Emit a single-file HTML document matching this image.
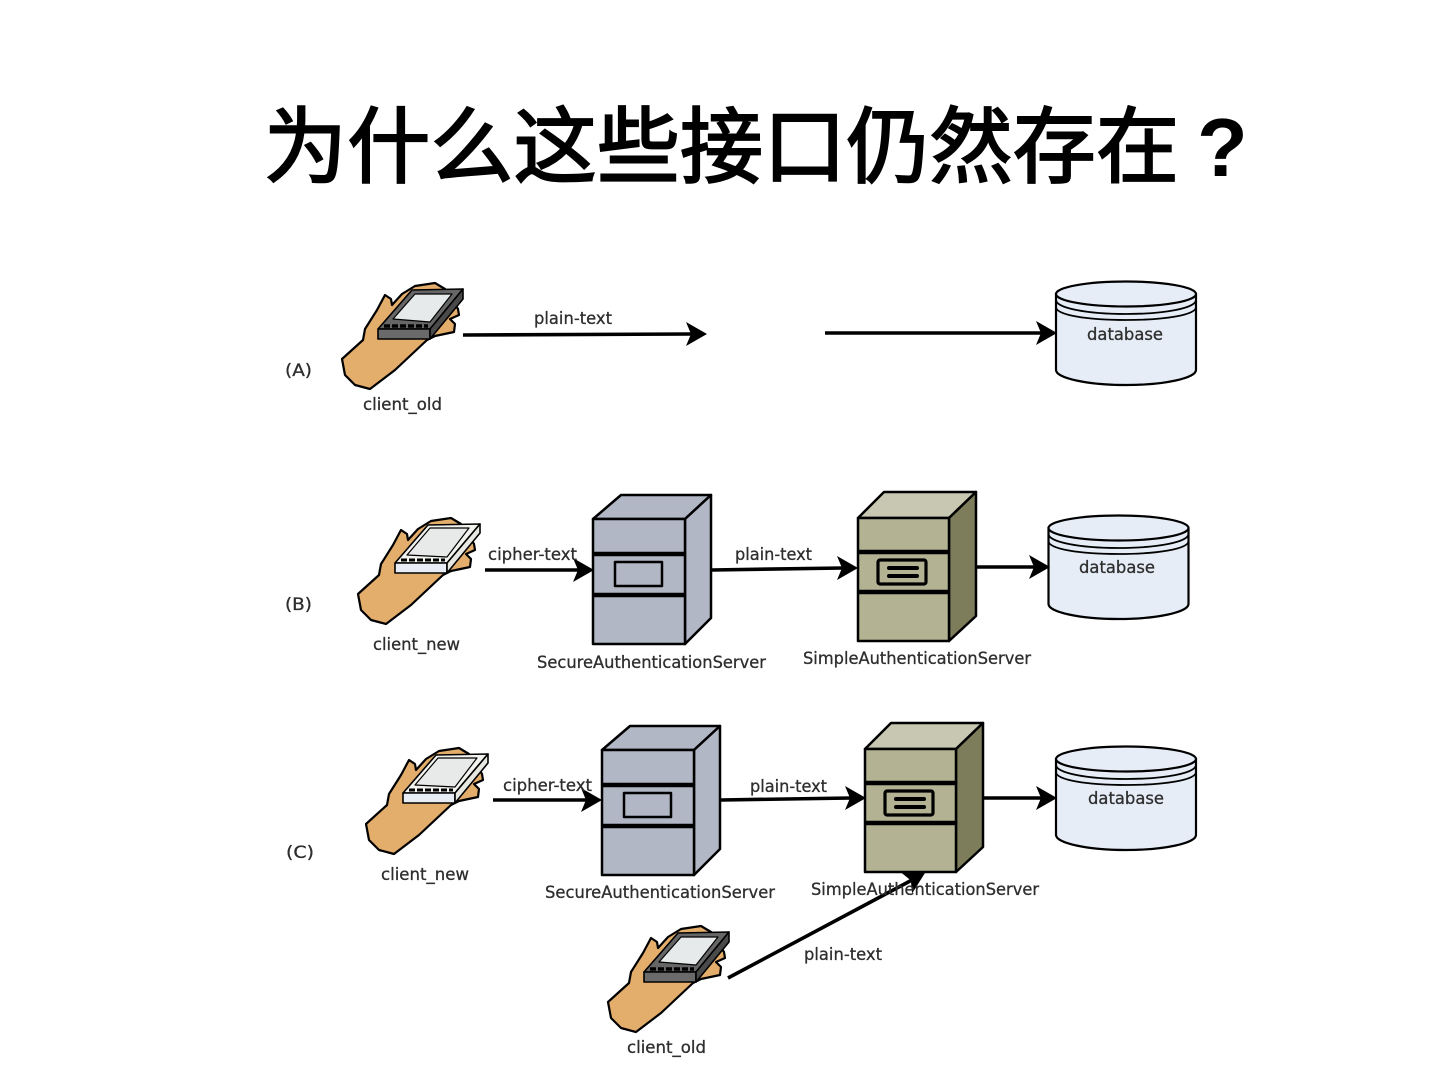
<!DOCTYPE html>
<html><head><meta charset="utf-8"><style>
html,body{margin:0;padding:0;background:#fff;width:1440px;height:1080px;overflow:hidden}
svg{display:block}
.l{font-family:"DejaVu Sans","Liberation Sans",sans-serif;font-size:17px;fill:#2e2e2e;stroke:#2e2e2e;stroke-width:.3}
.t{font-family:"Liberation Sans","Noto Sans CJK SC",sans-serif;font-size:83px;font-weight:400;fill:#000}
</style></head><body>
<svg width="1440" height="1080" viewBox="0 0 1440 1080" xmlns="http://www.w3.org/2000/svg">
<defs>
<path id="hand" d="M11 89L32 70L34 59L46 40L54 25L60 29L61 35L71 24L84 16L104 13L114 19L127 39L128 45L119 49L124 54L123 62L104 66L96 70L64 100L39 119L24 115L14 105Z" fill="#e3ad6c" stroke="#000" stroke-width="2.2" stroke-linejoin="round"/>
<g id="devDark" stroke="#000" stroke-width="1.6" stroke-linejoin="round">
<path d="M47 59L81 20L132 19L99 59Z" fill="#666"/>
<path d="M47 59H99V69H47Z" fill="#6a6a6a"/>
<path d="M99 59L132 19V29L99 69Z" fill="#4a4a4a"/>
<path d="M62 49L84 24L121 24L99 52Z" fill="#e6eaea" stroke-width="1.2"/>
<path d="M53 56H97" stroke-width="3.5" stroke-dasharray="6 2"/>
</g>
<g id="devWhite" stroke="#000" stroke-width="1.6" stroke-linejoin="round">
<path d="M48 58L81 20L133 19L100 58Z" fill="#f2f3ef"/>
<path d="M48 58H100V68H48Z" fill="#e8edf5"/>
<path d="M100 58L133 19V28L100 68Z" fill="#e8e8e2"/>
<path d="M60 50L83 23L122 23L100 52Z" fill="#e8eaea" stroke-width="1.2"/>
<path d="M54 55H98" stroke-width="3" stroke-dasharray="6 2"/>
</g>
<g id="blue" stroke="#000" stroke-width="2.5" stroke-linejoin="round">
<path d="M593 519L621 495H711L685 519Z" fill="#b1b7c5"/>
<path d="M685 519L711 495V618L685 644Z" fill="#b1b7c5"/>
<rect x="593" y="519" width="92" height="125" fill="#b1b7c5"/>
<path d="M593 554H685M593 595H685" stroke-width="4.5"/>
<rect x="615" y="562" width="47" height="24" fill="#b1b7c5"/>
</g>
<g id="tan" stroke="#000" stroke-width="2.5" stroke-linejoin="round">
<path d="M858 518L884 492H976L949 518Z" fill="#c8c8b2"/>
<path d="M949 518L976 492V616L949 641Z" fill="#7d7d5c"/>
<rect x="858" y="518" width="91" height="123" fill="#b3b394"/>
<path d="M858 552H949M858 592H949" stroke-width="4.5"/>
<rect x="878" y="560" width="48" height="24" rx="2" fill="#b3b394" stroke-width="3.2"/>
<path d="M889 568H917M889 576H917" stroke-width="4" stroke-linecap="round"/>
</g>
<g id="db" fill="#e6edf7" stroke="#000" stroke-width="2.2">
<path d="M1056 294V370C1056 378 1087 385 1126 385S1196 378 1196 370V294Z"/>
<ellipse cx="1126" cy="294" rx="70" ry="12.5"/>
<path d="M1056 300C1056 308 1087 314 1126 314S1196 308 1196 300M1056 307C1056 315 1087 320 1126 320S1196 315 1196 307" fill="none" stroke-width="1.8"/>
</g>
<path id="ah" d="M0 0L-21 -12L-16 0L-21 12Z" fill="#000"/>
</defs>

<text class="t" x="264" y="176" textLength="915" lengthAdjust="spacing" stroke="#000" stroke-width="2">为什么这些接口仍然存在</text>
<text class="t" x="1197" y="176" style="font-family:'Liberation Sans',sans-serif;font-weight:700">?</text>

<use href="#hand" transform="translate(331,270)"/><use href="#devDark" transform="translate(331,270)"/>
<use href="#hand" transform="translate(347,505)"/><use href="#devWhite" transform="translate(347,505)"/>
<use href="#hand" transform="translate(355,735)"/><use href="#devWhite" transform="translate(355,735)"/>
<use href="#hand" transform="translate(597,913)"/><use href="#devDark" transform="translate(597,913)"/>

<use href="#db"/>
<use href="#db" x="-7.5" y="234"/>
<use href="#db" y="465"/>
<use href="#blue"/>
<use href="#blue" x="9" y="231"/>
<use href="#tan"/>
<use href="#tan" x="7" y="231"/>

<g stroke="#000" stroke-width="3.6" fill="none">
<path d="M463 335L692 334"/>
<path d="M825 333H1042"/>
<path d="M485 570H579"/>
<path d="M712 570L843 568"/>
<path d="M976 567H1035"/>
<path d="M493 800H587"/>
<path d="M721 800L851 798"/>
<path d="M984 798H1042"/>
<path d="M728 978L912 880"/>
</g>
<use href="#ah" transform="translate(707,334)"/>
<use href="#ah" transform="translate(1057,333)"/>
<use href="#ah" transform="translate(594,570)"/>
<use href="#ah" transform="translate(858,568)"/>
<use href="#ah" transform="translate(1050,567)"/>
<use href="#ah" transform="translate(602,800)"/>
<use href="#ah" transform="translate(866,798)"/>
<use href="#ah" transform="translate(1057,798)"/>
<use href="#ah" transform="translate(925,873) rotate(-28)"/>

<g>
<text class="l" x="285" y="376" textLength="27" lengthAdjust="spacingAndGlyphs">(A)</text>
<text class="l" x="285" y="610" textLength="27" lengthAdjust="spacingAndGlyphs">(B)</text>
<text class="l" x="286" y="858" textLength="28" lengthAdjust="spacingAndGlyphs">(C)</text>
<text class="l" x="534" y="324" textLength="78" lengthAdjust="spacingAndGlyphs">plain-text</text>
<text class="l" x="363" y="410" textLength="79" lengthAdjust="spacingAndGlyphs">client_old</text>
<text class="l" x="1087" y="340" textLength="76" lengthAdjust="spacingAndGlyphs">database</text>
<text class="l" x="488" y="560" textLength="89" lengthAdjust="spacingAndGlyphs">cipher-text</text>
<text class="l" x="735" y="560" textLength="77" lengthAdjust="spacingAndGlyphs">plain-text</text>
<text class="l" x="1079" y="573" textLength="76" lengthAdjust="spacingAndGlyphs">database</text>
<text class="l" x="373" y="650" textLength="87" lengthAdjust="spacingAndGlyphs">client_new</text>
<text class="l" x="537" y="668" textLength="229" lengthAdjust="spacingAndGlyphs">SecureAuthenticationServer</text>
<text class="l" x="803" y="664" textLength="228" lengthAdjust="spacingAndGlyphs">SimpleAuthenticationServer</text>
<text class="l" x="503" y="791" textLength="89" lengthAdjust="spacingAndGlyphs">cipher-text</text>
<text class="l" x="750" y="792" textLength="77" lengthAdjust="spacingAndGlyphs">plain-text</text>
<text class="l" x="1088" y="804" textLength="76" lengthAdjust="spacingAndGlyphs">database</text>
<text class="l" x="381" y="880" textLength="88" lengthAdjust="spacingAndGlyphs">client_new</text>
<text class="l" x="545" y="898" textLength="230" lengthAdjust="spacingAndGlyphs">SecureAuthenticationServer</text>
<text class="l" x="811" y="895" textLength="228" lengthAdjust="spacingAndGlyphs">SimpleAuthenticationServer</text>
<text class="l" x="804" y="960" textLength="78" lengthAdjust="spacingAndGlyphs">plain-text</text>
<text class="l" x="627" y="1053" textLength="79" lengthAdjust="spacingAndGlyphs">client_old</text>
</g>
</svg>
</body></html>
